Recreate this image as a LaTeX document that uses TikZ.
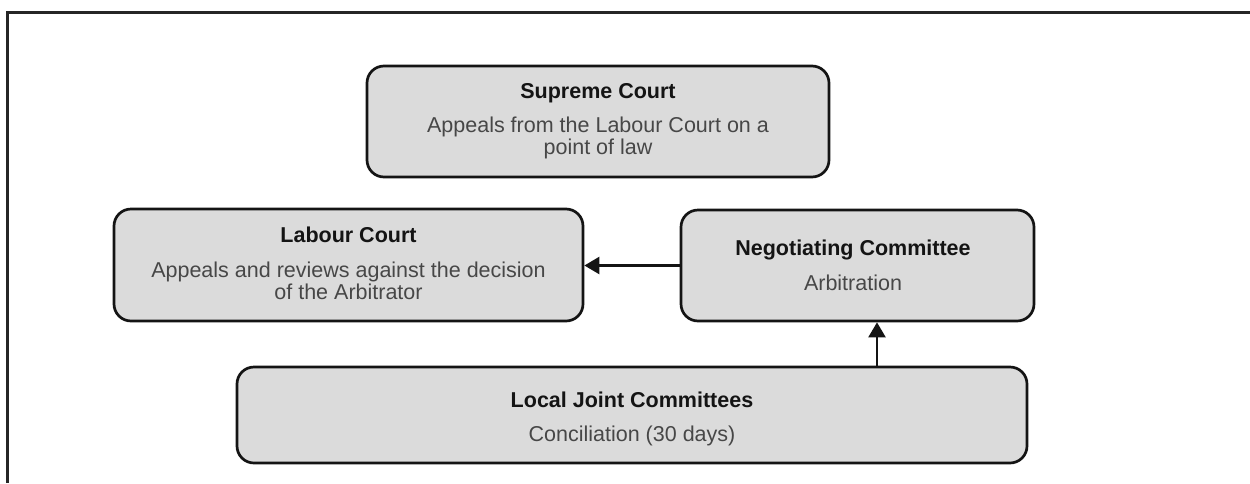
\documentclass[tikz,border=0pt]{standalone}
\usepackage{fontspec}
\setmainfont{Liberation Sans}
\usetikzlibrary{arrows.meta}
\begin{document}
\begin{tikzpicture}[x=1pt,y=-1pt,
  box/.style={draw=black!92,line width=2.7pt,fill=black!14,rounded corners=17pt,inner sep=0pt,anchor=center},
  ttl/.style={anchor=base,inner sep=0pt,font=\fontsize{21.5}{23}\selectfont\bfseries,text=black!92},
  body/.style={anchor=base,inner sep=0pt,font=\fontsize{21.5}{23}\selectfont,text=black!72},
  conn/.style={line width=2.4pt,draw=black!92,-{Triangle[length=15pt,width=17pt]}}]
\useasboundingbox (0,0) rectangle (1250,483);
% outer frame (top and left only)
\draw[line width=3pt,black!85] (7,483) -- (7,12) -- (1250,12);
% boxes
\node[box,minimum width=462pt,minimum height=111pt] (sc) at (598,121.5) {};
\node[box,minimum width=469pt,minimum height=112pt] (lc) at (348.5,265) {};
\node[box,minimum width=353pt,minimum height=111pt] (nc) at (857.5,265.5) {};
\node[box,minimum width=790pt,minimum height=96pt] (ljc) at (632,415) {};
% texts
\node[ttl] (sct) at (598,98) {Supreme Court};
\node[body] (scb1) at (598,132) {Appeals from the Labour Court on a};
\node[body] (scb2) at (598,154) {point of law};
\node[ttl] (lct) at (348.5,242) {Labour Court};
\node[body] (lcb1) at (348.5,277) {Appeals and reviews against the decision};
\node[body] (lcb2) at (348.5,299) {of the Arbitrator};
\node[ttl] (nct) at (853,255) {Negotiating Committee};
\node[body] (ncb) at (853,290) {Arbitration};
\node[ttl] (ljct) at (632,407) {Local Joint Committees};
\node[body] (ljcb) at (632,441) {Conciliation (30 days)};
% connectors
\draw[conn] (nc.west) -- (nc.west -| lc.east);
\coordinate (up) at (877,367);
\draw[conn] (up) -- (up |- nc.south);
\end{tikzpicture}
\end{document}
